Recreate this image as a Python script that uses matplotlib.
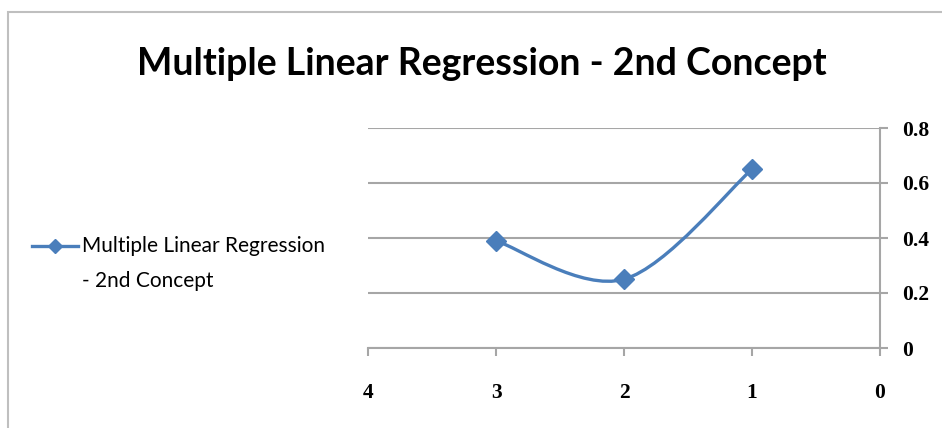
import numpy as np
import matplotlib.pyplot as plt
from matplotlib.path import Path
from matplotlib.patches import PathPatch, Rectangle
from matplotlib.lines import Line2D

# series read from the worksheet
x_vals = [3, 2, 1]
y_vals = [0.39, 0.25, 0.65]
series_name = ["Multiple Linear Regression", "- 2nd Concept"]
title = "Multiple Linear Regression - 2nd Concept"
x_ticks = [4, 3, 2, 1, 0]
y_ticks = [0, 0.2, 0.4, 0.6, 0.8]

line_blue = "#4a7ebb"
grid_gray = "#a6a6a6"


def smooth_path(xs, ys):
    # cardinal (Excel-style) bezier through the points, ends duplicated
    p = np.column_stack([xs, ys]).astype(float)
    p = np.vstack([p[0], p, p[-1]])
    verts = [p[1]]
    codes = [Path.MOVETO]
    for i in range(1, len(p) - 2):
        c1 = p[i] + (p[i + 1] - p[i - 1]) / 6.0
        c2 = p[i + 1] - (p[i + 2] - p[i]) / 6.0
        verts += [c1, c2, p[i + 1]]
        codes += [Path.CURVE4] * 3
    return Path(verts, codes)


W, H = 942, 428
fig = plt.figure(figsize=(W / 100, H / 100), dpi=100)

# chart area border
fig.patches.append(Rectangle((8 / W, -0.1), 1.2, 1 - 12 / H + 0.1,
                             transform=fig.transFigure, fill=False,
                             edgecolor="#bfbfbf", linewidth=1.5))

ax = fig.add_axes([368 / W, 1 - 348 / H, 512 / W, 220 / H])
ax.set_xlim(4, 0)
ax.set_ylim(0, 0.8)

for s in ["top", "left"]:
    ax.spines[s].set_visible(False)
for s in ["bottom", "right"]:
    ax.spines[s].set_color(grid_gray)
    ax.spines[s].set_linewidth(1.5)

ax.set_xticks(x_ticks)
ax.set_yticks(y_ticks)
ax.set_yticklabels(["0", "0.2", "0.4", "0.6", "0.8"])
ax.yaxis.tick_right()
ax.tick_params(axis="both", colors=grid_gray, length=6, width=1.5,
               labelcolor="black", labelsize=15.5)
ax.tick_params(axis="x", pad=19)
ax.tick_params(axis="y", pad=10)
for lab in ax.get_xticklabels() + ax.get_yticklabels():
    lab.set_fontfamily("Liberation Serif")
    lab.set_fontweight("bold")

ax.grid(axis="y", color=grid_gray, linewidth=1.5)
ax.set_axisbelow(True)

ax.add_patch(PathPatch(smooth_path(x_vals, y_vals), facecolor="none",
                       edgecolor=line_blue, linewidth=2.4, zorder=3))
ax.plot(x_vals, y_vals, linestyle="none", marker="D", markersize=10,
        color=line_blue, zorder=4)

fig.text(482 / W, 1 - 64 / H, title, ha="center", va="center",
         fontsize=27, fontweight="bold", family="Lato")

# legend key drawn by hand so it sits on the first label line
key_y = 1 - 246 / H
fig.add_artist(Line2D([32 / W, 78 / W], [key_y, key_y], color=line_blue,
                      linewidth=2.4, transform=fig.transFigure))
fig.add_artist(Line2D([55 / W], [key_y], color=line_blue, marker="D",
                      markersize=7, transform=fig.transFigure))
for i, line in enumerate(series_name):
    fig.text(82 / W, 1 - (246 + 35 * i) / H, line, ha="left", va="center",
             fontsize=15, family="Lato")

fig.savefig("out.png", dpi=100)
